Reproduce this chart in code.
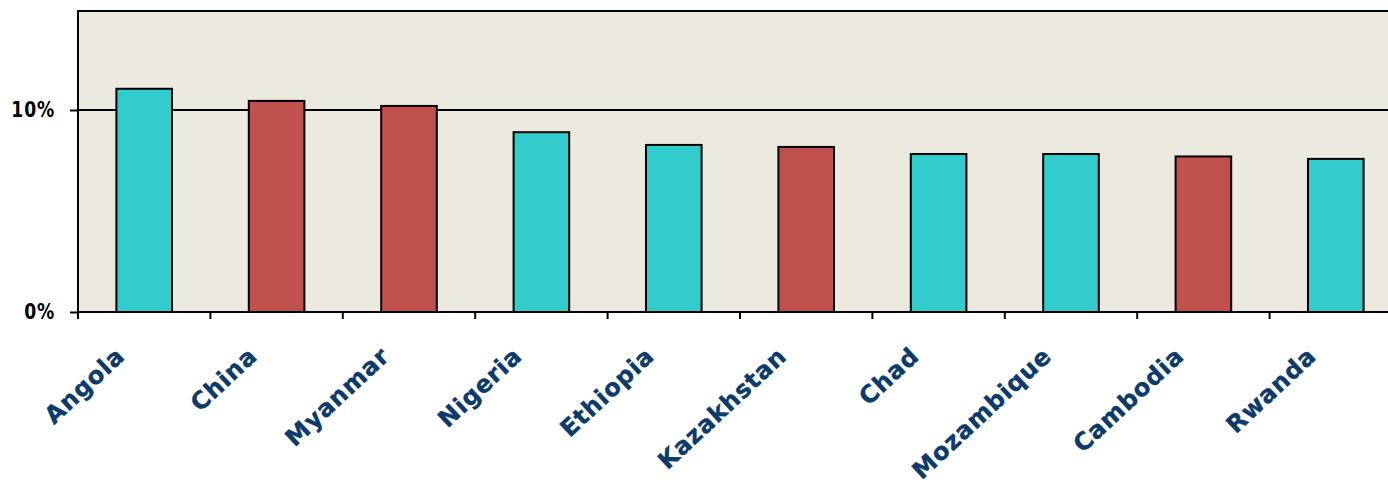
<!DOCTYPE html>
<html>
<head>
<meta charset="utf-8">
<script src="https://cdn.jsdelivr.net/npm/d3@7"></script>
<style>
  body { margin: 0; background: #fff; }
  svg { display: block; }
</style>
</head>
<body>
<div id="chart"></div>
<script>
const countries = ['Angola', 'China', 'Myanmar', 'Nigeria', 'Ethiopia', 'Kazakhstan', 'Chad', 'Mozambique', 'Cambodia', 'Rwanda']
const growth = [11.05, 10.45, 10.2, 8.9, 8.27, 8.17, 7.82, 7.82, 7.7, 7.58]
const highlighted = ['China', 'Myanmar', 'Kazakhstan', 'Cambodia']
const yTicks = [0, 10]

const margin = { top: 11, left: 78, right: -14, bottom: 173 }
const width = 1388 - margin.left - margin.right
const height = 485 - margin.top - margin.bottom

const svg = d3
  .select('#chart')
  .append('svg')
  .attr('width', 1388)
  .attr('height', 485)
  .append('g')
  .attr('transform', 'translate(' + margin.left + ',' + margin.top + ')')

const xPositionScale = d3
  .scaleBand()
  .domain(countries)
  .range([0, width])
  .paddingInner(0.58)
  .paddingOuter(0.29)

const yPositionScale = d3
  .scaleLinear()
  .domain([0, 14.9])
  .range([height, 0])

svg
  .append('rect')
  .attr('width', width)
  .attr('height', height)
  .attr('fill', '#ECE9DF')
  .attr('stroke', '#000')
  .attr('stroke-width', 2)

// gridline at 10%
svg
  .append('line')
  .attr('x1', 0)
  .attr('x2', width)
  .attr('y1', yPositionScale(10))
  .attr('y2', yPositionScale(10))
  .attr('stroke', '#000')
  .attr('stroke-width', 2)

const data = countries.map((c, i) => ({ country: c, value: growth[i] }))

svg
  .selectAll('.bar')
  .data(data)
  .enter()
  .append('rect')
  .attr('class', 'bar')
  .attr('x', d => xPositionScale(d.country))
  .attr('width', xPositionScale.bandwidth())
  .attr('y', d => yPositionScale(d.value))
  .attr('height', d => height - yPositionScale(d.value))
  .attr('fill', d => (highlighted.includes(d.country) ? '#C0504D' : '#33CCCC'))
  .attr('stroke', '#000')
  .attr('stroke-width', 2)

// x axis: ticks sit between categories
const step = xPositionScale.step()
const boundaries = d3.range(countries.length + 1).map(i => i * step)
svg
  .selectAll('.xtick')
  .data(boundaries)
  .enter()
  .append('line')
  .attr('x1', d => d)
  .attr('x2', d => d)
  .attr('y1', height)
  .attr('y2', height + 7)
  .attr('stroke', '#000')
  .attr('stroke-width', 2)

svg
  .append('line')
  .attr('x1', 0)
  .attr('x2', width)
  .attr('y1', height)
  .attr('y2', height)
  .attr('stroke', '#000')
  .attr('stroke-width', 2)

svg
  .selectAll('.xlabel')
  .data(countries)
  .enter()
  .append('text')
  .attr('class', 'xlabel')
  .text(d => d)
  .attr('text-anchor', 'end')
  .attr('font-family', 'DejaVu Sans')
  .attr('font-weight', 'bold')
  .attr('font-size', 24)
  .attr('letter-spacing', 0.8)
  .attr('fill', '#0B3A6B')
  .attr('stroke', '#0B3A6B')
  .attr('stroke-width', 0.4)
  .attr('transform', d => {
    const cx = xPositionScale(d) + xPositionScale.bandwidth() / 2 - 18
    return 'translate(' + cx + ',' + (height + 46) + ') rotate(-43)'
  })

// y axis
const yAxis = d3
  .axisLeft(yPositionScale)
  .tickValues(yTicks)
  .tickSize(8)
  .tickFormat('')
svg
  .append('g')
  .attr('class', 'axis y-axis')
  .call(yAxis)

svg.selectAll('.y-axis path').remove()
svg.selectAll('.y-axis line').attr('stroke', '#000').attr('stroke-width', 2)

svg
  .selectAll('.ylabel')
  .data(yTicks)
  .enter()
  .append('text')
  .attr('class', 'ylabel')
  .text(d => d + '%')
  .attr('text-anchor', 'end')
  .attr('font-family', 'DejaVu Sans')
  .attr('font-weight', 'bold')
  .attr('font-size', 21)
  .attr('letter-spacing', 1)
  .attr('fill', '#000')
  .attr('transform', d => 'translate(-23,' + (yPositionScale(d) + 7) + ') scale(0.82,1)')
</script>
</body>
</html>
